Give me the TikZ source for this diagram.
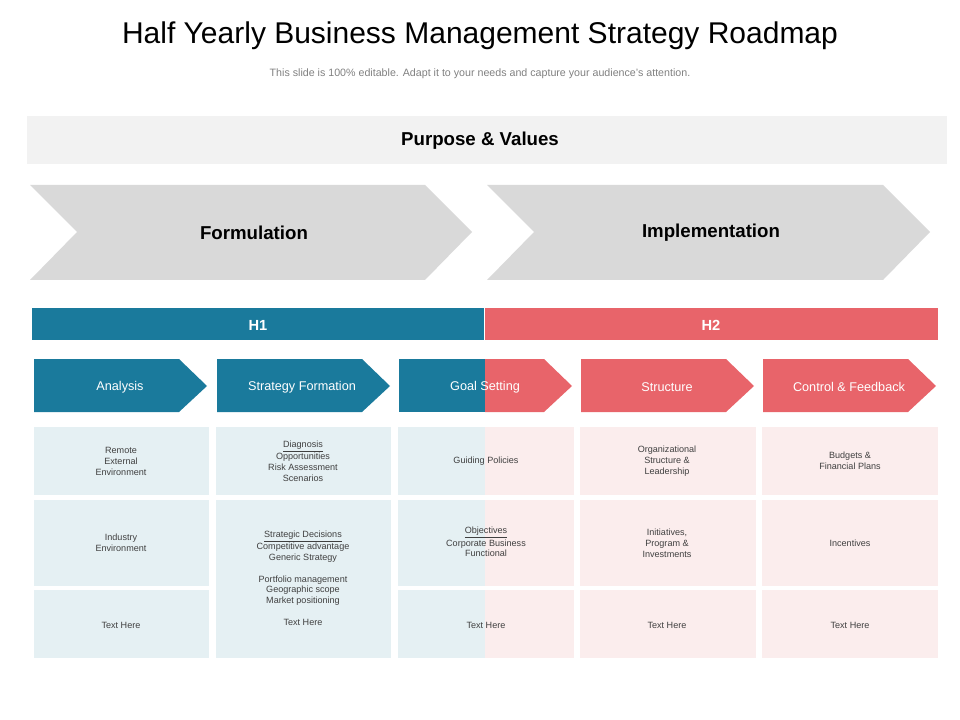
\documentclass[tikz,border=0pt]{standalone}
\usepackage{fontspec}
\setmainfont{Liberation Sans}
\newcommand{\ul}[1]{\underline{#1}}
\begin{document}
\begin{tikzpicture}[x=0.75pt,y=-0.75pt,
  blue/.style={fill={rgb,255:red,26;green,122;blue,156}},
  red/.style={fill={rgb,255:red,232;green,100;blue,106}},
  lb/.style={fill={rgb,255:red,229;green,240;blue,243}},
  lp/.style={fill={rgb,255:red,251;green,237;blue,237}},
  celltxt/.style={font=\fontsize{6.8pt}{8.2pt}\selectfont,text={rgb,255:red,64;green,64;blue,64},align=center},
  arrtxt/.style={font=\fontsize{9.5pt}{11pt}\selectfont,text=white}]
\useasboundingbox (0,0) rectangle (960,720);
\node (title) at (480,36) {\fontsize{22.5pt}{26pt}\selectfont Half Yearly Business Management Strategy Roadmap};
\node[text=gray,font=\fontsize{8pt}{10pt}\selectfont] (sub) at (480,74) {This slide is 100\% editable. Adapt it to your needs and capture your audience's attention.};
\fill[gray!10] (27,116) rectangle (947,164);
\node[font=\bfseries\fontsize{14pt}{16pt}\selectfont] (pv) at (480,141) {Purpose \& Values};
\fill[gray!30] (30,185) -- (425,185) -- (472,232) -- (425,280) -- (30,280) -- (77,232) -- cycle;
\fill[gray!30] (487,185) -- (883,185) -- (930,232) -- (883,280) -- (487,280) -- (534,232) -- cycle;
\node[font=\bfseries\fontsize{14pt}{16pt}\selectfont] (form) at (254,233) {Formulation};
\node[font=\bfseries\fontsize{14pt}{16pt}\selectfont] (impl) at (711,233) {Implementation};
\fill[blue] (32,308) rectangle (484,340);
\fill[red] (485,308) rectangle (938,340);
\node[font=\bfseries\fontsize{11pt}{13pt}\selectfont,text=white] (h1) at (258,325) {H1};
\node[font=\bfseries\fontsize{11pt}{13pt}\selectfont,text=white] (h2) at (711,325) {H2};
% arrows
\foreach \x/\s in {34/blue,217/blue,581/red,763/red}{
  \fill[\s] (\x,359) -- (\x+145,359) -- (\x+173,386) -- (\x+145,412) -- (\x,412) -- cycle;}
\fill[red] (485,359) -- (544,359) -- (572,386) -- (544,412) -- (485,412) -- cycle;
\fill[blue] (399,359) rectangle (485,412);
\node[arrtxt] (a1) at (120,387) {Analysis};
\node[arrtxt] (a2) at (302,387) {Strategy Formation};
\node[arrtxt] (a3) at (485,387) {Goal Setting};
\node[arrtxt] (a4) at (667,387) {Structure};
\node[arrtxt] (a5) at (849,387) {Control \& Feedback};
% cells
\foreach \y/\h in {427/495,500/586,590/658}{
  \fill[lb] (34,\y) rectangle (209,\h);
  \fill[lb] (398,\y) rectangle (485,\h);
  \fill[lp] (485,\y) rectangle (574,\h);
  \fill[lp] (580,\y) rectangle (756,\h);
  \fill[lp] (762,\y) rectangle (938,\h);}
\fill[lb] (216,427) rectangle (391,495);
\fill[lb] (216,500) rectangle (391,658);
\node[celltxt] (c11) at (121,461) {Remote\\External\\Environment};
\node[celltxt] (c12) at (121,543) {Industry\\Environment};
\node[celltxt] (c13) at (121,625) {Text Here};
\node[celltxt] (c21) at (303,461) {\ul{Diagnosis}\\Opportunities\\Risk Assessment\\Scenarios};
\node[celltxt] (c22) at (303,578) {\ul{Strategic Decisions}\\Competitive advantage\\Generic Strategy\\[8pt]Portfolio management\\Geographic scope\\Market positioning\\[8pt]Text Here};
\node[celltxt] (c31) at (486,461) {Guiding Policies};
\node[celltxt] (c32) at (486,542) {\ul{Objectives}\\Corporate Business\\Functional};
\node[celltxt] (c33) at (486,625) {Text Here};
\node[celltxt] (c41) at (667,461) {Organizational\\Structure \&\\Leadership};
\node[celltxt] (c42) at (667,543) {Initiatives,\\Program \&\\Investments};
\node[celltxt] (c43) at (667,625) {Text Here};
\node[celltxt] (c51) at (850,461) {Budgets \&\\Financial Plans};
\node[celltxt] (c52) at (850,543) {Incentives};
\node[celltxt] (c53) at (850,625) {Text Here};
\end{tikzpicture}
\end{document}
